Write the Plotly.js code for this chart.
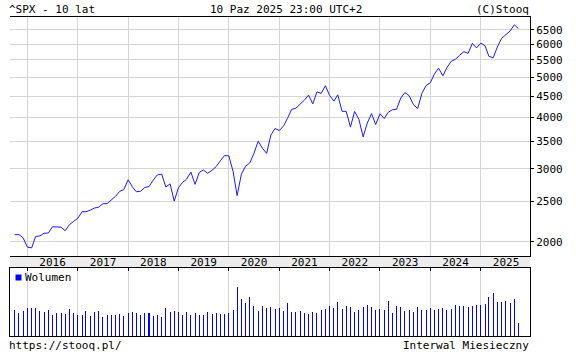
<!DOCTYPE html>
<html>
<head>
<meta charset="utf-8">
<script src="https://cdn.plot.ly/plotly-3.0.1.min.js"></script>
<style>html,body{margin:0;padding:0;background:#fff;}#chart{width:576px;height:354px;}</style>
</head>
<body>
<div id="chart"></div>
<script>
// Monthly closes, Oct 2015 .. Oct 2025
const close2015 = [2079.36, 2080.41, 2043.94];
const close2016 = [1940.24, 1932.23, 2059.74, 2065.30, 2096.95, 2098.86, 2173.60, 2170.95, 2168.27, 2126.15, 2198.81, 2238.83];
const close2017 = [2278.87, 2363.64, 2362.72, 2384.20, 2411.80, 2423.41, 2470.30, 2471.65, 2519.36, 2575.26, 2647.58, 2673.61];
const close2018 = [2823.81, 2713.83, 2640.87, 2648.05, 2705.27, 2718.37, 2816.29, 2901.52, 2913.98, 2711.74, 2760.17, 2506.85];
const close2019 = [2704.10, 2784.49, 2834.40, 2945.83, 2752.06, 2941.76, 2980.38, 2926.46, 2976.74, 3037.56, 3140.98, 3230.78];
const close2020 = [3225.52, 2954.22, 2584.59, 2912.43, 3044.31, 3100.29, 3271.12, 3500.31, 3363.00, 3269.96, 3621.63, 3756.07];
const close2021 = [3714.24, 3811.15, 3972.89, 4181.17, 4204.11, 4297.50, 4395.26, 4522.68, 4307.54, 4605.38, 4567.00, 4766.18];
const close2022 = [4515.55, 4373.94, 4530.41, 4131.93, 4132.15, 3785.38, 4130.29, 3955.00, 3585.62, 3871.98, 4080.11, 3839.50];
const close2023 = [4076.60, 3970.15, 4109.31, 4169.48, 4179.83, 4450.38, 4588.96, 4507.66, 4288.05, 4193.80, 4567.80, 4769.83];
const close2024 = [4845.65, 5096.27, 5254.35, 5035.69, 5277.51, 5460.48, 5522.30, 5648.40, 5762.48, 5705.45, 6032.38, 5881.63];
const close2025 = [6040.53, 5954.50, 5611.85, 5569.06, 5911.69, 6204.95, 6339.39, 6460.26, 6688.46, 6552.51];

// Monthly volume (relative units)
const vol2015 = [26.5, 23.5, 25.5];
const vol2016 = [28.5, 28.5, 28.5, 25.5, 24.5, 26.5, 21.5, 23.5, 23.5, 22.5, 27.5, 23.5];
const vol2017 = [21.5, 21.5, 25.5, 20.5, 24.5, 25.5, 19.5, 21.5, 21.5, 21.5, 22.5, 20.5];
const vol2018 = [23.5, 24.5, 23.5, 21.5, 23.5, 23.5, 20.5, 21.5, 19.5, 28.5, 24.5, 25.5];
const vol2019 = [24.5, 21.5, 24.5, 21.5, 23.5, 21.5, 21.5, 24.5, 22.5, 23.5, 22.5, 22.5];
const vol2020 = [23.5, 26.5, 49.5, 37.5, 33.5, 39.5, 30.5, 25.5, 30.5, 28.5, 29.5, 27.5];
const vol2021 = [28.5, 25.5, 33.5, 24.5, 24.5, 25.5, 23.5, 22.5, 24.5, 23.5, 26.5, 27.5];
const vol2022 = [30.5, 28.5, 34.5, 27.5, 30.5, 29.5, 24.5, 26.5, 29.5, 31.5, 29.5, 26.5];
const vol2023 = [27.5, 26.5, 35.5, 23.5, 30.5, 29.5, 25.5, 26.5, 24.5, 29.5, 26.5, 26.5];
const vol2024 = [28.5, 26.5, 27.5, 28.5, 26.5, 27.5, 31.5, 30.5, 30.5, 29.5, 30.5, 31.5];
const vol2025 = [31.5, 32.5, 39.5, 43.5, 34.5, 34.5, 35.5, 33.5, 37.5, 13.5];

const yTickVals = [2000, 2500, 3000, 3500, 4000, 4500, 5000, 5500, 6000, 6500];
const yTickText = ['2000', '2500', '3000', '3500', '4000', '4500', '5000', '5500', '6000', '6500'];

const closes = [].concat(close2015, close2016, close2017, close2018, close2019, close2020,
  close2021, close2022, close2023, close2024, close2025);
const volumes = [].concat(vol2015, vol2016, vol2017, vol2018, vol2019, vol2020,
  vol2021, vol2022, vol2023, vol2024, vol2025);

// month dates, starting Oct 2015
const months = [];
for (let i = 0; i < closes.length; i++) {
  const y = 2015 + Math.floor((9 + i) / 12);
  const m = ((9 + i) % 12) + 1;
  months.push(y + '-' + (m < 10 ? '0' + m : m) + '-01');
}

const FONT = 'DejaVu Sans Mono';
const xRange = ['2015-08-28', '2025-12-24'];
const yRange = [3.26646, 3.84431];
const grid = '#d4d4d4';

const traces = [
  {
    type: 'scatter', mode: 'lines', x: months, y: closes,
    xaxis: 'x', yaxis: 'y', line: {color: '#1a1aff', width: 1},
    showlegend: false, hoverinfo: 'skip'
  },
  {
    type: 'bar', x: months, y: volumes, xaxis: 'x2', yaxis: 'y2',
    width: 6.3e8, marker: {color: '#0000ff', line: {width: 0}},
    showlegend: false, hoverinfo: 'skip'
  }
];

const mainBottom = (336 - 256) / 319;
const volTop = (336 - 268) / 319;
function px(xp) { return (xp - 10) / 520; }
function py(yp) { return (336 - yp) / 319; }

const layout = {
  width: 576, height: 354, autosize: false,
  margin: {l: 10, r: 46, t: 17, b: 18, pad: 0},
  paper_bgcolor: '#ffffff', plot_bgcolor: '#ffffff',
  font: {family: FONT, size: 11, color: '#000'},
  showlegend: false,
  bargap: 0,
  xaxis: {
    type: 'date', range: xRange, domain: [0, 1], anchor: 'y',
    showgrid: true, gridcolor: grid, gridwidth: 1,
    tick0: '2016-01-01', dtick: 'M12', tickformat: '%Y', ticklabelmode: 'period',
    ticks: '', ticklabelstandoff: -4, showline: true, linecolor: '#000', linewidth: 1, mirror: true,
    tickfont: {family: FONT, size: 11, color: '#000'}, zeroline: false, fixedrange: true
  },
  xaxis3: {
    type: 'date', range: xRange, overlaying: 'x', anchor: 'y', side: 'top',
    tick0: '2016-01-01', dtick: 'M12', ticks: 'inside', ticklen: 3, tickcolor: '#000',
    showticklabels: false, showgrid: false, showline: false, zeroline: false
  },
  yaxis: {
    type: 'log', range: yRange, domain: [mainBottom, 1], anchor: 'x', side: 'right',
    tickvals: yTickVals, ticktext: yTickText, ticks: 'outside', ticklen: 3, tickcolor: '#000',
    showgrid: true, gridcolor: grid, gridwidth: 1,
    showline: true, linecolor: '#000', linewidth: 1,
    tickfont: {family: FONT, size: 11, color: '#000'}, zeroline: false
  },
  yaxis3: {
    type: 'log', range: yRange, overlaying: 'y', anchor: 'x', side: 'left',
    tickvals: yTickVals, ticks: 'inside', ticklen: 3, tickcolor: '#000',
    showticklabels: false, showgrid: false, showline: true, linecolor: '#000', zeroline: false
  },
  xaxis2: {
    type: 'date', range: xRange, domain: [0, 1], anchor: 'y2', side: 'top',
    showgrid: true, gridcolor: grid, gridwidth: 1,
    tick0: '2016-01-01', dtick: 'M12', ticks: 'inside', ticklen: 3, tickcolor: '#000',
    showticklabels: false, showline: true, linecolor: '#000', linewidth: 1, mirror: true,
    zeroline: false
  },
  yaxis2: {
    range: [0, 68], domain: [0, volTop], anchor: 'x2', side: 'right',
    showgrid: false, showticklabels: false, ticks: '',
    showline: true, linecolor: '#000', linewidth: 1, mirror: true, zeroline: false
  },
  shapes: [
    {type: 'rect', xref: 'paper', yref: 'paper', x0: 0, x1: 1, y0: volTop, y1: mainBottom,
     fillcolor: '#ececec', line: {width: 0}, layer: 'below'},
    {type: 'rect', xref: 'paper', yref: 'paper', x0: px(15.5), x1: px(21.5), y0: py(280.5), y1: py(274.5),
     fillcolor: '#0000ff', line: {width: 0}}
  ],
  annotations: [
    {xref: 'paper', yref: 'paper', x: px(8), y: py(9), xanchor: 'left', yanchor: 'middle',
     text: '^SPX - 10 lat', showarrow: false, borderpad: 0, font: {family: FONT, size: 11, color: '#000'}},
    {xref: 'paper', yref: 'paper', x: px(285.5), y: py(9), xanchor: 'center', yanchor: 'middle',
     text: '10 Paz 2025 23:00 UTC+2', showarrow: false, borderpad: 0, font: {family: FONT, size: 11, color: '#000'}},
    {xref: 'paper', yref: 'paper', x: px(530), y: py(9), xanchor: 'right', yanchor: 'middle',
     text: '(C)Stooq', showarrow: false, borderpad: 0, font: {family: FONT, size: 11, color: '#000'}},
    {xref: 'paper', yref: 'paper', x: px(24), y: py(277.5), xanchor: 'left', yanchor: 'middle',
     text: 'Wolumen', showarrow: false, borderpad: 0, font: {family: FONT, size: 11, color: '#000'}},
    {xref: 'paper', yref: 'paper', x: px(8), y: py(345), xanchor: 'left', yanchor: 'middle',
     text: 'https://stooq.pl/', showarrow: false, borderpad: 0, font: {family: FONT, size: 11, color: '#000'}},
    {xref: 'paper', yref: 'paper', x: px(530), y: py(345), xanchor: 'right', yanchor: 'middle',
     text: 'Interwal Miesieczny', showarrow: false, borderpad: 0, font: {family: FONT, size: 11, color: '#000'}}
  ]
};

Plotly.newPlot('chart', traces, layout, {staticPlot: true, displayModeBar: false});
</script>
</body>
</html>
